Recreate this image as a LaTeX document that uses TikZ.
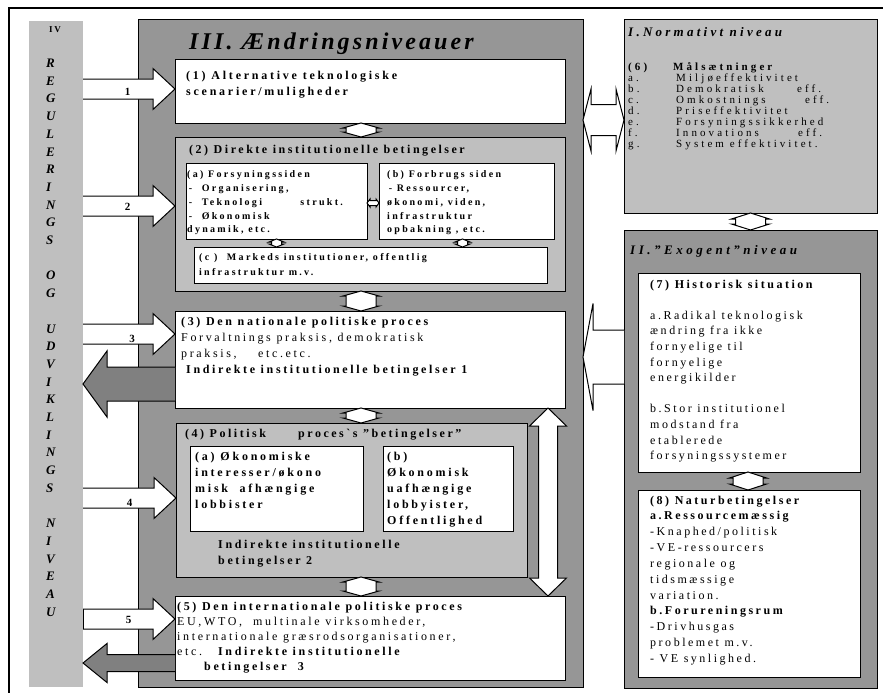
\documentclass[tikz,border=0pt]{standalone}
\usepackage{fontspec}
\setmainfont{Liberation Serif}[Ligatures=TeXOff]
\usetikzlibrary{calc}

\definecolor{dk}{gray}{0.59}
\definecolor{lt}{gray}{0.75}
\definecolor{ar}{gray}{0.5}

% size, leading, letter spacing (percent of the font size)
\newcommand\fs[3]{\fontsize{#1}{#2}\selectfont\addfontfeatures{LetterSpace=#3}}
% stacked lines whose baseline is the first line
\newcommand\blk[1]{\begin{tabular}[t]{@{}l@{}}#1\end{tabular}}

\tikzset{
  box/.style={draw=black, line width=1pt, anchor=north west, inner sep=0, outer sep=0},
  wbox/.style={box, fill=white},
  lbox/.style={box, fill=lt},
  dbox/.style={box, fill=dk},
  txt/.style={inner sep=0, anchor=base west},
  small/.style={scale=#1, transform shape},
  arrline/.style={draw=black, line width=1pt, line join=miter},
}

% vertical double block arrow: [fill]{top tip}{bottom tip}{head half width}{shaft half width}{head length}
\newcommand\vdarrow[6][white]{%
  \filldraw[arrline, fill=#1] let \p1=(#2), \p2=(#3) in
   (\x1,\y1) -- (\x1+#4pt,\y1-#6pt) -- (\x1+#5pt,\y1-#6pt) -- (\x1+#5pt,\y2+#6pt)
   -- (\x1+#4pt,\y2+#6pt) -- (\x1,\y2) -- (\x1-#4pt,\y2+#6pt) -- (\x1-#5pt,\y2+#6pt)
   -- (\x1-#5pt,\y1-#6pt) -- (\x1-#4pt,\y1-#6pt) -- cycle;}
% horizontal double block arrow: [fill]{left tip}{right tip}{...}
\newcommand\hdarrow[6][white]{%
  \filldraw[arrline, fill=#1] let \p1=(#2), \p2=(#3) in
   (\x1,\y1) -- (\x1+#6pt,\y1+#4pt) -- (\x1+#6pt,\y1+#5pt) -- (\x2-#6pt,\y1+#5pt)
   -- (\x2-#6pt,\y1+#4pt) -- (\x2,\y1) -- (\x2-#6pt,\y1-#4pt) -- (\x2-#6pt,\y1-#5pt)
   -- (\x1+#6pt,\y1-#5pt) -- (\x1+#6pt,\y1-#4pt) -- cycle;}
% horizontal single block arrow with an open tail: [fill]{tail}{tip}{...}
\newcommand\sarrow[6][white]{%
  \fill[#1] let \p1=(#2), \p2=(#3), \p3=($(#3)!#6pt!(#2)$) in
   (\x1,\y2+#5pt) -- (\x3,\y2+#5pt) -- (\x3,\y2+#4pt) -- (\x2,\y2)
   -- (\x3,\y2-#4pt) -- (\x3,\y2-#5pt) -- (\x1,\y2-#5pt) -- cycle;
  \draw[arrline] let \p1=(#2), \p2=(#3), \p3=($(#3)!#6pt!(#2)$) in
   (\x1,\y2+#5pt) -- (\x3,\y2+#5pt) -- (\x3,\y2+#4pt) -- (\x2,\y2)
   -- (\x3,\y2-#4pt) -- (\x3,\y2-#5pt) -- (\x1,\y2-#5pt);}

\begin{document}
\begin{tikzpicture}[x=1pt,y=-1pt]
\useasboundingbox (0,0) rectangle (883,693);

% page frame
\draw[line width=1.3pt] (9,700) -- (9,8) -- (890,8);

% IV: regulation column
\node[box, draw=none, fill=lt, minimum width=54, minimum height=666] (col) at (29,21) {};
\node[txt, anchor=base, small=0.75] (ivlab) at (55,33) {\fs{12}{14}{22}\bfseries IV};
\node[txt] (ivtext) at (46,67.5) {\fs{13}{17.7}{0}\bfseries\itshape
  \blk{R\\E\\G\\U\\L\\E\\R\\I\\N\\G\\S\\ \\O\\G\\ \\U\\D\\V\\I\\K\\L\\I\\N\\G\\S\\ \\N\\I\\V\\E\\A\\U}};

% III: levels of change
\node[dbox, minimum width=445, minimum height=667] (iii) at (138,20) {};
\node[txt] (t3) at (189,49) {\fs{24}{28}{13}\bfseries\itshape III. Ændringsniveauer};

\node[wbox, minimum width=390, minimum height=63] (b1) at (175,60) {};
\node[lbox, minimum width=390, minimum height=154] (b2) at (175,137) {};
\node[wbox, minimum width=181, minimum height=76] (b2a) at (186,163) {};
\node[wbox, minimum width=175, minimum height=76] (b2b) at (379,163) {};
\node[wbox, minimum width=353, minimum height=36] (b2c) at (194,247) {};
\node[wbox, minimum width=390, minimum height=97] (b3) at (175,311) {};
\node[lbox, minimum width=351, minimum height=154] (b4) at (176,423) {};
\node[wbox, minimum width=173, minimum height=85] (b4a) at (190,446) {};
\node[wbox, minimum width=130, minimum height=85] (b4b) at (383,446) {};
\node[wbox, minimum width=390, minimum height=84] (b5) at (175,596) {};

% I: normative level, II: exogenous level
\node[lbox, minimum width=253, minimum height=193] (bI) at (624,20) {};
\node[dbox, minimum width=253, minimum height=458] (bII) at (624,230) {};
\node[wbox, minimum width=222, minimum height=199] (b7) at (638,273) {};
\node[wbox, minimum width=222, minimum height=187] (b8) at (638,490) {};

% connectors inside III
\coordinate (c12) at ($(b1.south)+(-9,0)$);
\vdarrow{c12}{c12 |- b2.north}{18}{15}{5}
\coordinate (c23) at ($(b2.south)+(-9,0)$);
\vdarrow{c23}{c23 |- b3.north}{18}{15}{5}
\vdarrow{c23 |- b3.south}{c23 |- b4.north}{18}{15}{5}
\vdarrow{c23 |- b4.south}{c23 |- b5.north}{18}{15}{5}
\vdarrow{b2a.south}{b2a.south |- b2c.north}{7.5}{5}{3}
\coordinate (cbc) at ($(b2b.south)+(-4,0)$);
\vdarrow{cbc}{cbc |- b2c.north}{7.5}{5}{3}
\coordinate (cab) at ($(b2a.east)+(0,2)$);
\hdarrow{cab}{cab -| b2b.west}{4}{2.5}{3}
\coordinate (rv) at (548,0);
\vdarrow{rv |- b3.south}{rv |- b5.north}{18.5}{9.5}{18}

% connectors on the right
\vdarrow{bI.south}{bII.north}{19}{15}{6}
\coordinate (c78) at ($(b7.south)+(-1,0)$);
\vdarrow{c78}{c78 |- b8.north}{18.5}{15}{6}
\coordinate (rI) at (0,120);
\hdarrow{iii.east |- rI}{bI.west |- rI}{31}{15.5}{8}
\coordinate (rII) at (0,357);
\sarrow{bII.west |- rII}{iii.east |- rII}{53.5}{27}{10}

% arrows from IV into III
\coordinate (r1) at (0,89);
\coordinate (r2) at (0,206);
\coordinate (r3) at (0,334);
\coordinate (r4) at (0,498);
\coordinate (r5) at (0,619);
\sarrow{col.east |- r1}{b1.west |- r1}{20.5}{10}{22}
\sarrow{col.east |- r2}{b2.west |- r2}{20.5}{10}{22}
\sarrow{col.east |- r3}{b3.west |- r3}{20.5}{10}{22}
\sarrow{col.east |- r4}{b4.west |- r4}{20.5}{10}{22}
\sarrow{col.east |- r5}{b5.west |- r5}{20.5}{10}{22}
\draw[arrline] ($(col.east |- r5)+(0,-10)$) -- ($(col.east |- r5)+(0,10)$);
\node[txt, anchor=base] (n1) at (127.5,95) {\fs{11}{12}{0}\bfseries 1};
\node[txt, anchor=base] (n2) at (127.5,210) {\fs{11}{12}{0}\bfseries 2};
\node[txt, anchor=base] (n3) at (132,342) {\fs{11}{12}{0}\bfseries 3};
\node[txt, anchor=base] (n4) at (129.5,506) {\fs{11}{12}{0}\bfseries 4};
\node[txt, anchor=base] (n5) at (128.5,623) {\fs{11}{12}{0}\bfseries 5};

% arrows from III back to IV
\coordinate (o3) at (0,384);
\coordinate (o5) at (0,663);
\sarrow[ar]{b3.west |- o3}{col.east |- o3}{33}{17}{24}
\sarrow[ar]{b5.west |- o5}{col.east |- o5}{19.5}{8.5}{24}

% texts of III
\node[txt] (t1) at (186,80) {\fs{12}{16}{23}\bfseries\blk{(1) Alternative teknologiske\\scenarier/muligheder}};
\node[txt] (t2) at (189,153) {\fs{12}{15}{21}\bfseries (2) Direkte institutionelle betingelser};
\node[txt, small=0.8333] (t2a) at (187,177) {\fs{12}{16.8}{23}\bfseries\blk{(a) Forsyningssiden\\\hspace{2pt}-~~Organisering,\\\hspace{2pt}\makebox[134pt][l]{-~~Teknologi}strukt.\\\hspace{2pt}-~~Økonomisk\\dynamik, etc.}};
\node[txt, small=0.8333] (t2b) at (387,177) {\fs{12}{16.8}{23}\bfseries\blk{(b) Forbrugs siden\\\hspace{2pt}- Ressourcer,\\økonomi, viden,\\infrastruktur\\opbakning , etc.}};
\node[txt, small=0.8333] (t2c) at (199,260) {\fs{12}{18}{23}\bfseries\blk{(c )~~Markeds institutioner, offentlig\\infrastruktur m.v.}};
\node[txt] (t3b) at (181,325) {\fs{12}{16}{22}\blk{\textbf{(3) Den nationale politiske proces}\\Forvaltnings praksis, demokratisk\\\makebox[77pt][l]{praksis,}etc.etc.\\\hspace{5pt}\textbf{Indirekte institutionelle betingelser 1}}};
\node[txt] (t4) at (185,437) {\fs{12}{16}{21}\bfseries\makebox[113pt][l]{(4) Politisk}proces`s ”betingelser”};
\node[txt] (t4a) at (195,460) {\fs{12}{16}{23}\bfseries\blk{(a) Økonomiske\\interesser/økono\\misk~ afhængige\\lobbister}};
\node[txt] (t4b) at (387,460) {\fs{12}{16}{23}\bfseries\blk{(b)\\Økonomisk\\uafhængige\\lobbyister,\\Offentlighed}};
\node[txt] (t4c) at (218,548) {\fs{12}{16}{22}\bfseries\blk{Indirekte institutionelle\\betingelser 2}};
\node[txt] (t5) at (177,610) {\fs{12}{15}{22}\blk{\textbf{(5) Den internationale politiske proces}\\\makebox[76pt][l]{EU,WTO,}multinale virksomheder,\\internationale græsrodsorganisationer,\\\makebox[41pt][l]{etc.}\textbf{Indirekte institutionelle}\\\hspace{27pt}\textbf{betingelser~ 3}}};

% texts of I
\node[txt] (tI) at (628,37) {\fs{13}{14}{25}\bfseries\itshape I.Normativt niveau};
\node[txt, small=0.9167] (t6) at (628,71) {\fs{12}{11.67}{28}\blk{%
  \textbf{\makebox[49pt][l]{(6)}Målsætninger}\\
  \makebox[52.4pt][l]{a.}Miljøeffektivitet\\
  \makebox[52.4pt][l]{b.}\makebox[132pt][l]{Demokratisk}eff.\\
  \makebox[52.4pt][l]{c.}\makebox[140.7pt][l]{Omkostnings}eff.\\
  \makebox[52.4pt][l]{d.}Priseffektivitet\\
  \makebox[52.4pt][l]{e.}Forsyningssikkerhed\\
  \makebox[52.4pt][l]{f.}\makebox[133pt][l]{Innovations}eff.\\
  \makebox[52.4pt][l]{g.}System effektivitet.}};

% texts of II
\node[txt] (tII) at (630,254) {\fs{13}{14}{27}\bfseries\itshape II.”Exogent”niveau};
\node[txt] (t7) at (650,288) {\fs{12}{15.6}{21}\blk{\textbf{(7) Historisk situation}\\ \\a.Radikal teknologisk\\ændring fra ikke\\fornyelige til\\fornyelige\\energikilder\\ \\b.Stor institutionel\\modstand fra\\etablerede\\forsyningssystemer}};
\node[txt] (t8) at (650,504) {\fs{12}{15.85}{21}\blk{\textbf{(8) Naturbetingelser}\\\textbf{a.Ressourcemæssig}\\-Knaphed/politisk\\-VE-ressourcers\\regionale og\\tidsmæssige\\variation.\\\textbf{b.Forureningsrum}\\-Drivhusgas\\problemet m.v.\\- VE synlighed.}};
\end{tikzpicture}
\end{document}
